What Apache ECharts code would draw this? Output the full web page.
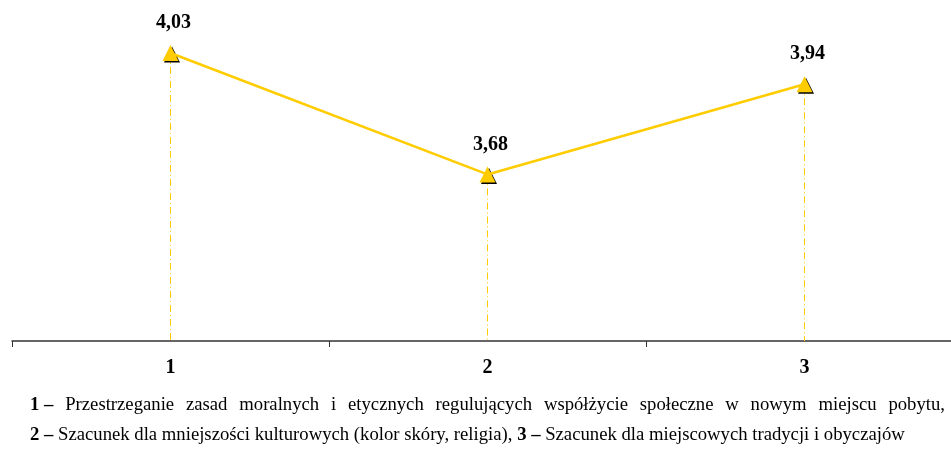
<!DOCTYPE html>
<html><head><meta charset="utf-8">
<script src="https://cdn.jsdelivr.net/npm/echarts@6/dist/echarts.min.js"></script>
<style>html,body{margin:0;padding:0;background:#fff;overflow:hidden;width:951px;height:450px}#c{width:963px;height:450px}</style>
</head><body><div id="c"></div>
<script>
var categories = ['1', '2', '3'];
var values = [4.03, 3.68, 3.94];
var valueLabels = ['4,03', '3,68', '3,94'];
var yMin = 3.2, yMax = 4.1;
var note1 = [['1 –', true], ['Przestrzeganie', false], ['zasad', false], ['moralnych', false], ['i', false], ['etycznych', false], ['regulujących', false], ['współżycie', false], ['społeczne', false], ['w', false], ['nowym', false], ['miejscu', false], ['pobytu,', false]];
var note2 = [['2 –', true], [' Szacunek dla mniejszości kulturowych (kolor skóry, religia), ', false], ['3 –', true], [' Szacunek dla miejscowych tradycji i obyczajów', false]];

var FONT = '"Liberation Serif", "Times New Roman", serif';
var FS = 18.7;
var ctx = document.createElement('canvas').getContext('2d');
function w(t, b) { ctx.font = (b ? 'bold ' : '') + FS + 'px ' + FONT; return ctx.measureText(t).width; }
var graphics = [];
(function () {
  var x0 = 30, x1 = 945, y = 407;
  var total = 0; note1.forEach(function (p) { total += w(p[0], p[1]); });
  var gap = (x1 - x0 - total) / (note1.length - 1);
  var x = x0;
  note1.forEach(function (p) {
    graphics.push({ type: 'text', left: x, top: y - 11, style: { text: p[0], font: (p[1] ? 'bold ' : '') + FS + 'px ' + FONT, fill: '#000' } });
    x += w(p[0], p[1]) + gap;
  });
})();
(function () {
  var x = 30, y = 437;
  note2.forEach(function (p) {
    graphics.push({ type: 'text', left: x, top: y - 11, style: { text: p[0], font: (p[1] ? 'bold ' : '') + FS + 'px ' + FONT, fill: '#000' } });
    x += w(p[0], p[1]);
  });
})();

var chart = echarts.init(document.getElementById('c'));
chart.setOption({
  animation: false,
  graphic: graphics,
  grid: { left: 12, right: 0, top: 28.7, height: 312.3 },
  xAxis: {
    type: 'category', data: categories, boundaryGap: true,
    axisLine: { lineStyle: { color: '#333', width: 1.5 } },
    axisTick: { show: true, length: 6, lineStyle: { color: '#333' } },
    axisLabel: { margin: 17, fontFamily: FONT, fontWeight: 'bold', fontSize: 20, color: '#000' }
  },
  yAxis: { type: 'value', min: yMin, max: yMax, show: false, splitLine: { show: false } },
  series: [
    {
      type: 'line', data: values, symbol: 'triangle', symbolSize: 16, symbolOffset: [1.5, 1.5],
      lineStyle: { width: 0, opacity: 0 }, itemStyle: { color: '#000' }, z: 1, silent: true
    },
    {
      type: 'line', data: values, symbol: 'triangle', symbolSize: 16, z: 3,
      lineStyle: { color: '#FFCC00', width: 2.5 },
      itemStyle: { color: '#FFCC00' },
      label: { show: true, position: 'top', distance: 12, offset: [3, 0], formatter: function (p) { return valueLabels[p.dataIndex]; },
        fontFamily: FONT, fontWeight: 'bold', fontSize: 20, color: '#000' },
      markLine: {
        symbol: ['none', 'none'], silent: true, label: { show: false },
        emphasis: { disabled: true },
        lineStyle: { color: '#FFCC00', type: [7, 3, 1, 3], width: 1, opacity: 1 },
        data: values.map(function (v, i) { return [{ coord: [i, v] }, { coord: [i, yMin] }]; })
      }
    }
  ]
});
</script></body></html>
